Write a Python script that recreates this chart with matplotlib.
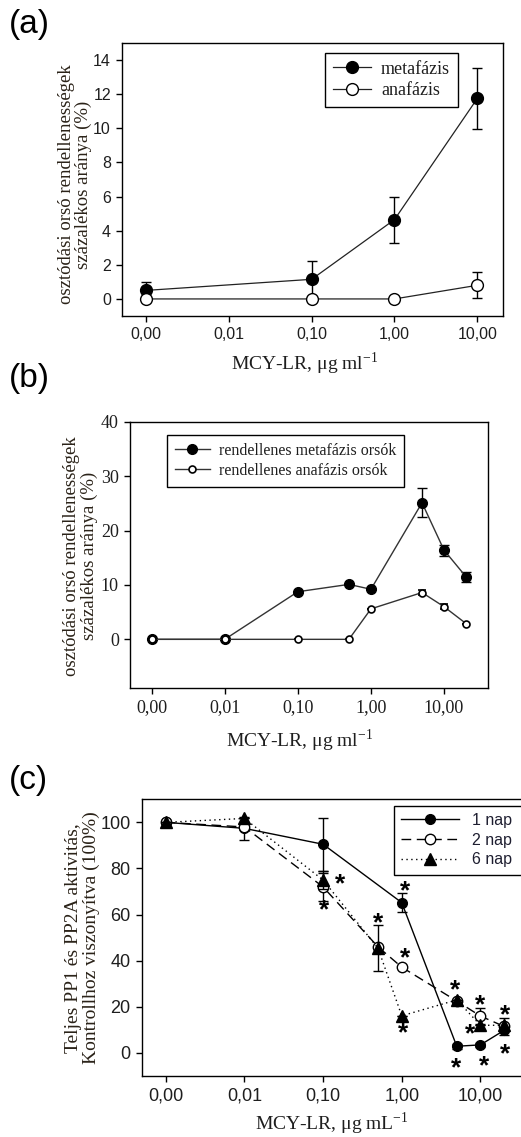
import numpy as np
import matplotlib
matplotlib.use("Agg")
import matplotlib.pyplot as plt

SERIF = "Liberation Serif"
SANS = "Liberation Sans"
TXT = "#1e1e1e"
YLAB = "#2a2218"

# ---------------- data ----------------
# panel (a)
a_conc = [0, 0.1, 1, 10]
a_meta = [0.5, 1.15, 4.65, 11.75]
a_meta_err = [0.5, 1.05, 1.35, 1.8]
a_ana = [0, 0, 0, 0.8]
a_ana_err = [0, 0, 0, 0.75]

# panel (b)
b_conc = [0, 0.01, 0.1, 0.5, 1, 5, 10, 20]
b_meta = [0, 0, 8.75, 10.1, 9.2, 25.1, 16.4, 11.5]
b_meta_err = [0, 0, 0, 0, 0, 2.7, 1.0, 0.9]
b_ana = [0, 0, 0, 0, 5.6, 8.6, 6.0, 2.9]
b_ana_err = [0, 0, 0, 0, 0, 0.5, 0.5, 0]

# panel (c)
c1_conc = [0, 0.01, 0.1, 1, 5, 10, 20]
c1_val = [100, 97.4, 90.5, 65.2, 2.9, 3.5, 9.8]
c1_err = [0, 5, 11.5, 4, 1, 1, 2]
c2_conc = [0, 0.01, 0.1, 0.5, 1, 5, 10, 20]
c2_val = [100, 98, 72, 46, 37.2, 22.5, 16, 11.5]
c2_err = [0, 0, 6, 0, 0, 0, 3.5, 0]
c6_conc = [0, 0.01, 0.1, 0.5, 1, 5, 10, 20]
c6_val = [100, 101.7, 75, 45.4, 16.1, 23, 12, 12]
c6_err = [0, 0, 4, 10, 0, 0, 0, 3]

star_x = [0.164, 0.103, 1.10, 0.50, 1.10, 1.045, 4.8, 9.9, 7.3, 4.9, 11.2, 20.5, 20.5]
star_y = [76, 65, 73, 59, 44, 11.5, 30, 23.5, 11, -3.8, -3, 19.5, 2.4]

xtick_vals = [0, 0.01, 0.1, 1, 10]
xtick_labels = ["0,00", "0,01", "0,10", "1,00", "10,00"]


def xp(v):
    """zero is drawn at the first decade position (0.001) of the log axis"""
    v = np.asarray(v, dtype=float)
    return np.where(v == 0, 1e-3, v)


def style_axes(ax, xlim, ylim, yticks, tickfont, ticksize):
    ax.set_xscale("log")
    ax.set_xlim(*xlim)
    ax.set_ylim(*ylim)
    ax.set_xticks(xp(xtick_vals))
    ax.set_xticklabels(xtick_labels)
    ax.xaxis.set_minor_locator(matplotlib.ticker.NullLocator())
    ax.set_yticks(yticks)
    ax.set_yticklabels([str(t) for t in yticks])
    ax.tick_params(direction="out", length=4, width=1, pad=4,
                   top=False, right=False, colors="black", labelcolor=TXT)
    for lab in ax.get_xticklabels() + ax.get_yticklabels():
        lab.set_fontfamily(tickfont)
        lab.set_fontsize(ticksize)
    for s in ax.spines.values():
        s.set_linewidth(1.0)
        s.set_color("black")


W, H = 521, 1137
fig = plt.figure(figsize=(W / 100, H / 100), dpi=100)


def axrect(l, t, r, b):
    return [l / W, 1 - b / H, (r - l) / W, (b - t) / H]


LC = "#222222"

# ---------------- panel (a) ----------------
ax = fig.add_axes(axrect(122, 43, 503, 316))
ax.errorbar(xp(a_conc), a_meta, yerr=a_meta_err, color=LC, lw=0.9, marker="o",
            ms=8.5, mfc="black", mec="black", ecolor="black", elinewidth=1,
            capsize=3.5, capthick=1, label="metafázis", zorder=3)
ax.errorbar(xp(a_conc), a_ana, yerr=a_ana_err, color=LC, lw=0.9, marker="o",
            ms=8.5, mfc="white", mec="black", mew=1, ecolor="black", elinewidth=1,
            capsize=3.5, capthick=1, label="anafázis", zorder=4)
style_axes(ax, (10 ** -3.29, 10 ** 1.31), (-1, 15), list(range(0, 15, 2)), SANS, 11.5)
ax.set_xlabel(r"MCY-LR, $\mathregular{\mu}$g ml$^{\mathregular{-1}}$",
              fontfamily=SERIF, fontsize=14, color=TXT)
ax.xaxis.set_label_coords(0.48, -0.125)
ax.set_ylabel("osztódási orsó rendellenességek\nszázalékos aránya (%)",
              fontfamily=SERIF, fontsize=13.5, color=YLAB, linespacing=1.0)
ax.yaxis.set_label_coords(-0.079, 0.482)
h, l = ax.get_legend_handles_labels()
h = [hh[0] for hh in h]
leg = ax.legend(h, l, loc="upper left", bbox_to_anchor=(0.533, 0.9645),
                borderaxespad=0, prop={"family": SERIF, "size": 13},
                frameon=True, fancybox=False, edgecolor="black", framealpha=1,
                handlelength=2.1, handletextpad=0.55, labelspacing=0.25,
                borderpad=0.45)
leg.get_frame().set_linewidth(1.0)
for t in leg.get_texts():
    t.set_color(TXT)

# ---------------- panel (b) ----------------
ax = fig.add_axes(axrect(130, 421.7, 488.3, 688.3))
ax.errorbar(xp(b_conc), b_meta, yerr=b_meta_err, color="#333333", lw=1.0, marker="o",
            ms=7, mfc="black", mec="black", ecolor="black", elinewidth=1,
            capsize=3.5, capthick=1, label="rendellenes metafázis orsók", zorder=3)
ax.errorbar(xp(b_conc), b_ana, yerr=b_ana_err, color="#333333", lw=1.0, marker="o",
            ms=5, mfc="white", mec="black", mew=1.2, ecolor="black", elinewidth=1,
            capsize=3, capthick=1, label="rendellenes anafázis orsók", zorder=4)
style_axes(ax, (10 ** -3.297, 10 ** 1.606), (-9, 40), [0, 10, 20, 30, 40], SERIF, 13)
ax.set_xlabel(r"MCY-LR, $\mathregular{\mu}$g ml$^{\mathregular{-1}}$",
              fontfamily=SERIF, fontsize=14, color=TXT)
ax.xaxis.set_label_coords(0.472, -0.145)
ax.set_ylabel("osztódási orsó rendellenességek\nszázalékos aránya (%)",
              fontfamily=SERIF, fontsize=13.5, color=YLAB, linespacing=1.0)
ax.yaxis.set_label_coords(-0.090, 0.496)
h, l = ax.get_legend_handles_labels()
h = [hh[0] for hh in h]
leg = ax.legend(h, l, loc="upper left", bbox_to_anchor=(0.1024, 0.950),
                borderaxespad=0, prop={"family": SERIF, "size": 11.5},
                frameon=True, fancybox=False, edgecolor="black", framealpha=1,
                handlelength=2.2, handletextpad=0.55, labelspacing=0.25,
                borderpad=0.5)
leg.get_frame().set_linewidth(1.0)
for t in leg.get_texts():
    t.set_color(TXT)

# ---------------- panel (c) ----------------
ax = fig.add_axes(axrect(141.7, 799.3, 530, 1076))
ax.errorbar(xp(c1_conc), c1_val, yerr=c1_err, color="black", lw=1.0, ls="-",
            marker="o", ms=7, mfc="black", mec="black", ecolor="black",
            elinewidth=1, capsize=3.5, capthick=1, label="1 nap", zorder=3)
ax.errorbar(xp(c2_conc), c2_val, yerr=c2_err, color="black", lw=1.0,
            ls=(0, (7, 4)), marker="o", ms=7.5, mfc="white", mec="black", mew=1,
            ecolor="black", elinewidth=1, capsize=3.5, capthick=1,
            label="2 nap", zorder=4)
ax.errorbar(xp(c6_conc), c6_val, yerr=c6_err, color="black", lw=1.0,
            ls=(0, (1, 2.5)), marker="^", ms=8, mfc="black", mec="black",
            ecolor="black", elinewidth=1, capsize=3.5, capthick=1,
            label="6 nap", zorder=5)
for sx, sy in zip(star_x, star_y):
    ax.annotate("*", (sx, sy), xytext=(0, -10), textcoords="offset points",
                ha="center", va="baseline", fontfamily=SANS, fontsize=19,
                fontweight="bold", color="black", zorder=6)
style_axes(ax, (10 ** -3.305, 10 ** 1.63), (-10, 110), [0, 20, 40, 60, 80, 100], SANS, 13)
ax.set_xlabel(r"MCY-LR, $\mathregular{\mu}$g mL$^{\mathregular{-1}}$",
              fontfamily=SERIF, fontsize=14, color=TXT)
ax.xaxis.set_label_coords(0.489, -0.123)
ax.set_ylabel("Teljes PP1 és PP2A aktivitás,\nKontrollhoz viszonyítva (100%)",
              fontfamily=SERIF, fontsize=14, color=YLAB, linespacing=1.0)
ax.yaxis.set_label_coords(-0.108, 0.5)
h, l = ax.get_legend_handles_labels()
h = [hh[0] for hh in h]
leg = ax.legend(h, l, loc="upper left", bbox_to_anchor=(0.6505, 0.0, 0.4, 0.977),
                mode="expand",
                borderaxespad=0, prop={"family": SANS, "size": 11.5},
                frameon=True, fancybox=False, edgecolor="black", framealpha=1,
                handlelength=3.6, handletextpad=0.8, labelspacing=0.3,
                borderpad=0.45)
leg.get_frame().set_linewidth(1.0)
for t in leg.get_texts():
    t.set_color("#1e1e30")

# panel letters
for lab, y in [("(a)", 25), ("(b)", 378), ("(c)", 781)]:
    fig.text(9 / W, 1 - y / H, lab, fontfamily=SANS, fontsize=24,
             ha="left", va="center", color="black")

fig.savefig("out.png", dpi=100)
